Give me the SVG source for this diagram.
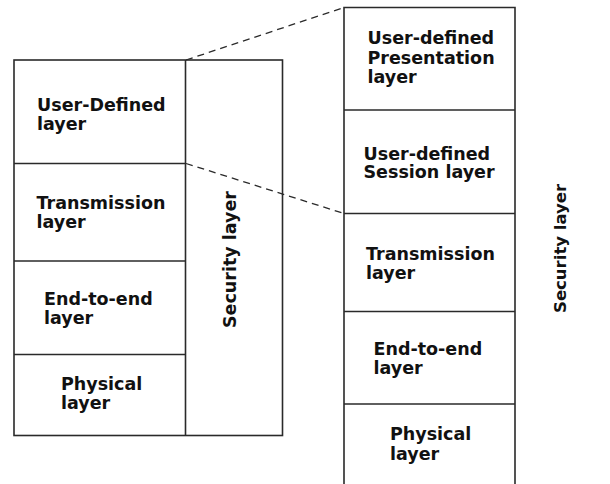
<svg xmlns="http://www.w3.org/2000/svg" width="610" height="484" viewBox="0 0 610 484">
<style>
.box{fill:none;stroke:#2a2a2a;stroke-width:1.6}
.ln{stroke:#2a2a2a;stroke-width:1.6;fill:none}
.dash{stroke:#2a2a2a;stroke-width:1.3;stroke-dasharray:7,5;fill:none}
.t{font-family:"DejaVu Sans","Verdana",sans-serif;font-weight:bold;font-size:17.5px;fill:#111}
</style>
<rect width="610" height="484" fill="#ffffff"/>
<g id="connectors">
<line class="dash" x1="186" y1="60" x2="344" y2="7.5"/>
<line class="dash" x1="186" y1="163.5" x2="344" y2="213.5"/>
</g>
<g id="left-stack">
<rect class="box" x="14" y="60" width="268.5" height="375.5"/>
<line class="ln" x1="185.5" y1="60" x2="185.5" y2="435.5"/>
</g>
<g id="left-user-defined">
<line class="ln" x1="14" y1="163.5" x2="185.5" y2="163.5"/>
<text class="t" x="37" y="110.5">User-Defined</text>
<text class="t" x="37" y="129.5">layer</text>
</g>
<g id="left-transmission">
<line class="ln" x1="14" y1="261" x2="185.5" y2="261"/>
<text class="t" x="36.5" y="208.5">Transmission</text>
<text class="t" x="36.5" y="227.5">layer</text>
</g>
<g id="left-end-to-end">
<line class="ln" x1="14" y1="354.5" x2="185.5" y2="354.5"/>
<text class="t" x="44" y="304.5">End-to-end</text>
<text class="t" x="44" y="323.5">layer</text>
</g>
<g id="left-physical">
<text class="t" x="61" y="389.5">Physical</text>
<text class="t" x="61" y="409">layer</text>
</g>
<g id="left-security">
<text class="t" transform="translate(236,328) rotate(-90)">Security layer</text>
</g>
<g id="right-stack">
<polyline class="ln" points="344,484 344,7.5 515,7.5 515,484"/>
</g>
<g id="right-presentation">
<line class="ln" x1="344" y1="110" x2="515" y2="110"/>
<text class="t" x="367.5" y="44">User-defined</text>
<text class="t" x="367.5" y="63.5">Presentation</text>
<text class="t" x="367.5" y="83">layer</text>
</g>
<g id="right-session">
<line class="ln" x1="344" y1="213.5" x2="515" y2="213.5"/>
<text class="t" x="363.5" y="159.5">User-defined</text>
<text class="t" x="363.5" y="178">Session layer</text>
</g>
<g id="right-transmission">
<line class="ln" x1="344" y1="311.5" x2="515" y2="311.5"/>
<text class="t" x="366" y="259.5">Transmission</text>
<text class="t" x="366" y="278.5">layer</text>
</g>
<g id="right-end-to-end">
<line class="ln" x1="344" y1="404" x2="515" y2="404"/>
<text class="t" x="373.5" y="355">End-to-end</text>
<text class="t" x="373.5" y="374">layer</text>
</g>
<g id="right-physical">
<text class="t" x="390" y="440">Physical</text>
<text class="t" x="390" y="459.5">layer</text>
</g>
<g id="right-security">
<text class="t" style="font-size:16.5px" transform="translate(566,313) rotate(-90)">Security layer</text>
</g>
</svg>
